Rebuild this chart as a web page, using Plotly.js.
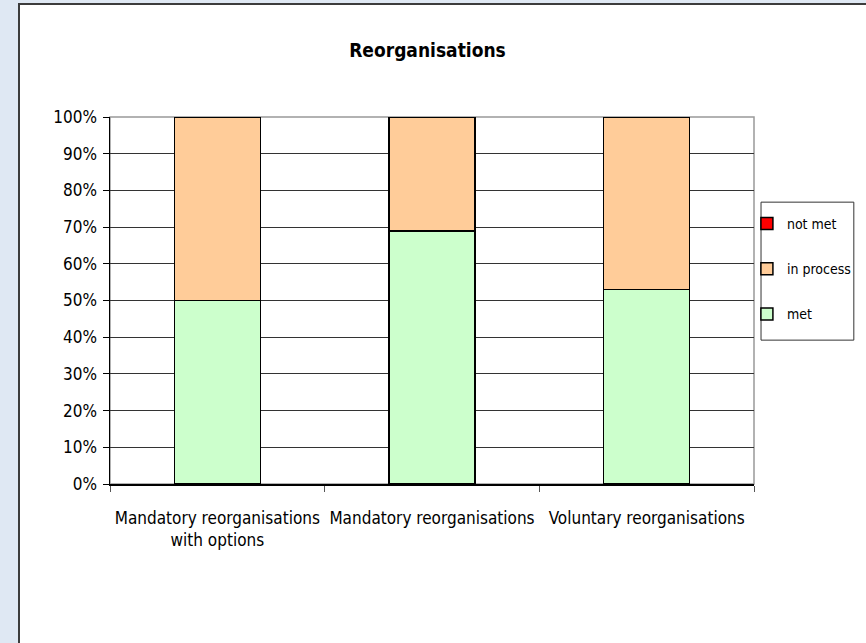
<!DOCTYPE html>
<html>
<head>
<meta charset="utf-8">
<script src="https://cdn.plot.ly/plotly-3.0.1.min.js"></script>
<style>
  html, body { margin:0; padding:0; width:866px; height:643px; background:#dfe8f3; overflow:hidden; }
  #frame { position:absolute; left:18px; top:3px; width:848px; height:638px; border-left:2px solid #3c3c3c; border-top:2px solid #3c3c3c; background:#fff; }
  #chart { position:absolute; left:0; top:0; width:848px; height:638px; }
</style>
</head>
<body>
<div id="frame"><div id="chart"></div></div>
<script>
const categories = ["Mandatory reorganisations<br>with options", "Mandatory reorganisations", "Voluntary reorganisations"];
const metValues = [50, 69, 53];
const inProcessValues = [50, 31, 47];
const notMetValues = [0, 0, 0];
const yTickVals = [0,10,20,30,40,50,60,70,80,90,100];
const yTickText = ["0%","10%","20%","30%","40%","50%","60%","70%","80%","90%","100%"];

const FONT = "Liberation Sans Narrow, Arial Narrow, DejaVu Sans Condensed, sans-serif";

function bar(name, vals, color, group, rank) {
  return {
    type: 'bar', name: name, x: categories, y: vals, width: 0.4,
    legendgroup: group, legendrank: rank,
    marker: { color: color, line: { color: '#000', width: 1.5 } },
    hoverinfo: 'skip'
  };
}

const data = [
  bar('met', metValues, '#ccffcc', 'g1', 3),
  bar('in process', inProcessValues, '#ffcc99', 'g2', 2),
  bar('not met', notMetValues, '#ff0000', 'g3', 1)
];

const layout = {
  width: 848, height: 638,
  margin: { l: 90, r: 111, t: 112, b: 159 },
  paper_bgcolor: '#ffffff', plot_bgcolor: '#ffffff',
  barmode: 'stack',
  font: { family: FONT, size: 17, color: '#000' },
  title: { text: '<b>Reorganisations</b>', font: { family: FONT, size: 19, color: '#000' },
           xref: 'paper', x: 0.493, xanchor: 'center', yref: 'container', y: 0.929, yanchor: 'middle' },
  xaxis: {
    type: 'category', tickson: 'boundaries', ticks: 'outside', ticklen: 6, tickcolor: '#555',
    showline: true, linecolor: '#000', linewidth: 1.5, showgrid: false, tickangle: 0,
    tickfont: { family: FONT, size: 17, color: '#000' }, ticklabelstandoff: 18,
    range: [-0.5, 2.5], fixedrange: true
  },
  yaxis: {
    range: [0, 100], tickvals: yTickVals, ticktext: yTickText,
    ticks: 'outside', ticklen: 6, tickcolor: '#000',
    showline: true, linecolor: '#000', linewidth: 1.5,
    showgrid: true, gridcolor: '#333', gridwidth: 1, zeroline: false,
    tickfont: { family: FONT, size: 17, color: '#000' }, ticklabelstandoff: 2,
    fixedrange: true
  },
  shapes: [
    { type: 'rect', xref: 'paper', yref: 'paper', x0: 0, x1: 1, y0: 0, y1: 1,
      line: { color: '#999', width: 1.5 }, layer: 'below' },
    { type: 'rect', xref: 'paper', yref: 'paper', x0: 1.0109, x1: 1.155, y0: 0.392, y1: 0.768,
      line: { color: '#333', width: 1 }, fillcolor: 'rgba(0,0,0,0)', layer: 'above' }
  ],
  legend: {
    xref: 'paper', yref: 'paper',
    x: 0.989, y: 0.752, xanchor: 'left', yanchor: 'top',
    traceorder: 'grouped', tracegroupgap: 24,
    borderwidth: 0, bgcolor: 'rgba(0,0,0,0)',
    font: { family: FONT, size: 14, color: '#000' },
    itemwidth: 30
  },
  showlegend: true
};

Plotly.newPlot('chart', data, layout, { displayModeBar: false, staticPlot: true });
</script>
</body>
</html>
